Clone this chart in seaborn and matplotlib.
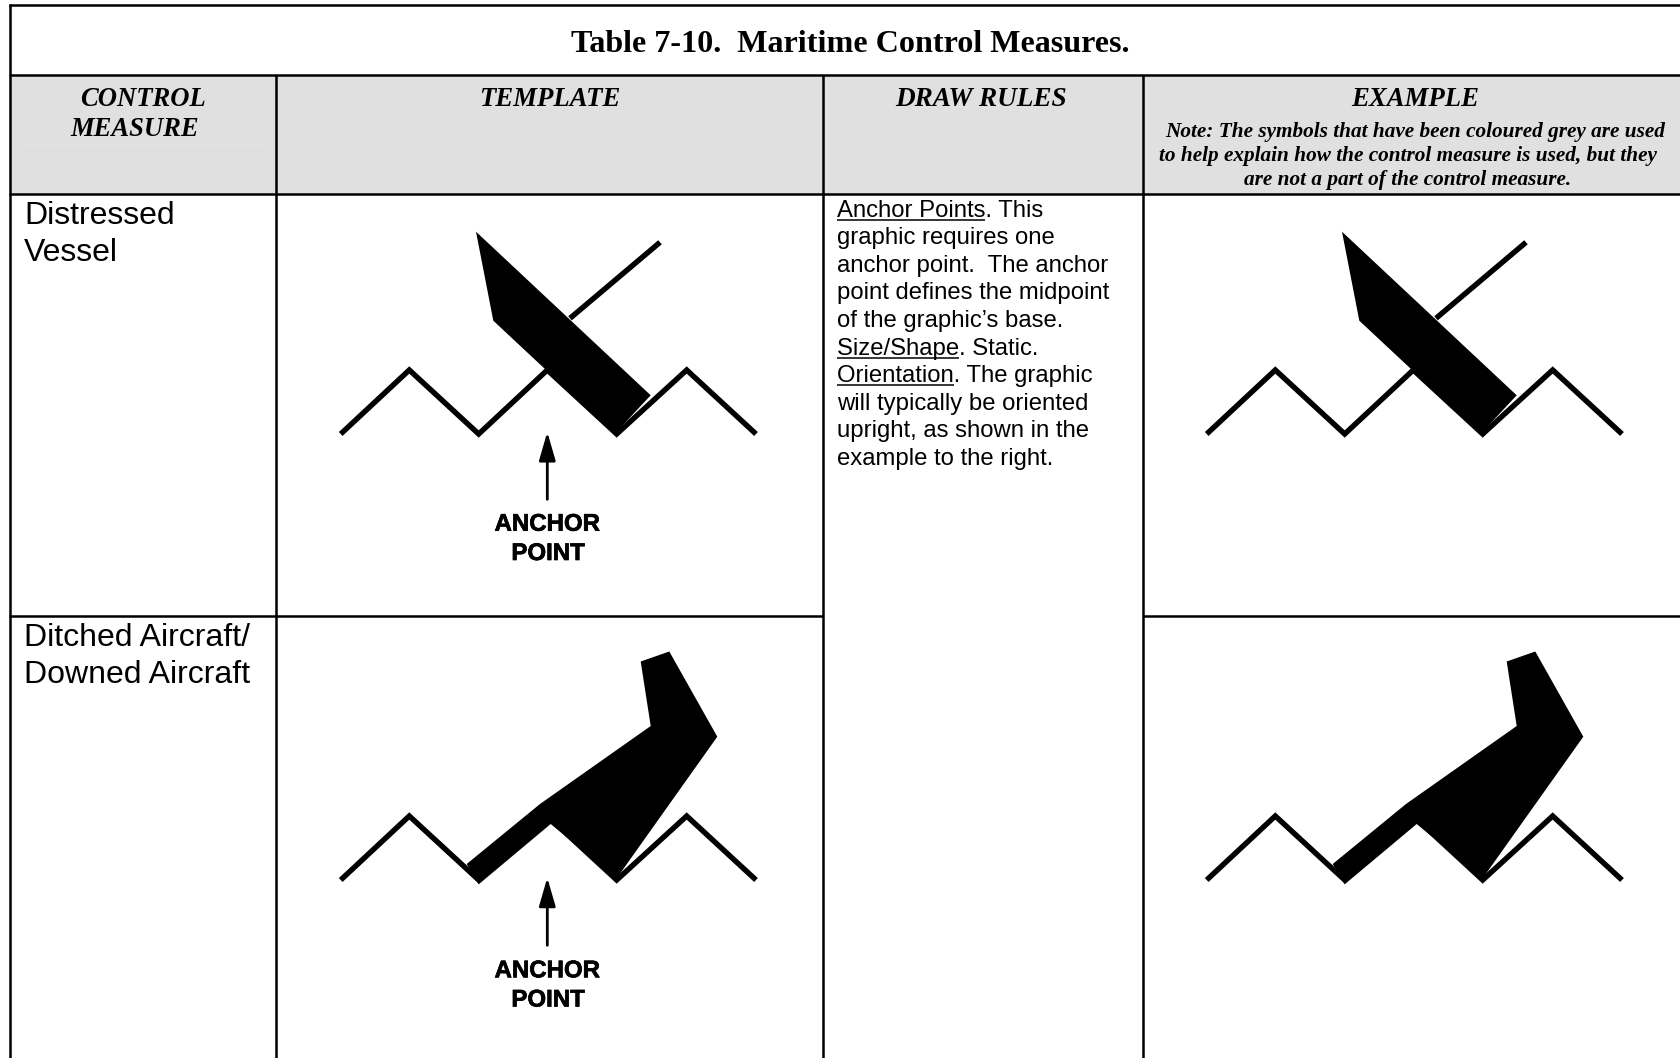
import matplotlib
matplotlib.use("Agg")
import matplotlib.pyplot as plt
import matplotlib.patheffects as pe
import seaborn as sns

# table layout in pixels
title = "Table 7-10.  Maritime Control Measures."
headers = ["TEMPLATE", "DRAW RULES", "EXAMPLE"]
header_x = [549.6, 981, 1415]
note_lines = ["Note: The symbols that have been coloured grey are used",
              "to help explain how the control measure is used, but they",
              "are not a part of the control measure."]
note_x = [1415, 1408, 1408]
note_y = [137, 161.5, 185.5]

col_lines = [276, 823, 1143]
row_top = 5
row_head = 75
row_body = 193.5
row_split = 616

rules_lines = ["Anchor Points. This", "graphic requires one",
               "anchor point.  The anchor", "point defines the midpoint",
               "of the graphic\u2019s base.", "Size/Shape. Static.",
               "Orientation. The graphic", "will typically be oriented",
               "upright, as shown in the", "example to the right."]
rules_y = [216.7, 244.3, 272, 299.5, 327, 354.5, 382.2, 410, 437.5, 465]
underlined = {0: "Anchor Points", 5: "Size/Shape", 6: "Orientation"}

# symbols
wave_x = [340.7, 409.3, 478.7, 547.3, 616.7, 686.7, 756]
wave_y1 = [434, 370, 434, 370, 434, 370, 434]
wave_y2 = [880, 816, 880, 816, 880, 816, 880]
mast_x = [570, 660]
mast_y = [318.3, 242.3]
vessel_x = [476, 650.7, 622, 616.7, 493.3]
vessel_y = [231.7, 395.3, 426, 436, 320.7]
plane_x = [466.7, 540, 650.7, 640.7, 669.3, 717.3, 616.7, 550.7, 478.7]
plane_y = [864, 804, 726, 661.5, 651.5, 736.7, 878.3, 824, 884.3]
example_shift = 866

sns.set_theme(style="white")
fig, ax = plt.subplots(figsize=(16.81, 10.58), dpi=100)
fig.subplots_adjust(0, 0, 1, 1)
ax.set_xlim(0, 1681)
ax.set_ylim(1058, 0)
ax.axis("off")

serif = "Liberation Serif"
sans = "Liberation Sans"

# header band
ax.fill([9.6, 1681, 1681, 9.6], [row_head, row_head, row_body, row_body], color="#e0e0e0", lw=0)
ax.plot([22, 262], [145, 145], color="#e6e6e6", lw=0.7)

# grid
k = dict(color="black", lw=1.8, solid_capstyle="butt")
ax.plot([9.6, 9.6], [row_top - 1, 1058], **k)
ax.plot([8.8, 1681], [row_top, row_top], **k)
ax.plot([8.8, 1681], [row_head, row_head], **k)
ax.plot([8.8, 1681], [row_body, row_body], **k)
ax.plot([8.8, col_lines[1]], [row_split, row_split], **k)
ax.plot([col_lines[2], 1681], [row_split, row_split], **k)
for x in col_lines:
    ax.plot([x, x], [row_head, 1058], **k)

# text
ax.text(850, 52, title, family=serif, weight="bold", fontsize=23.15, ha="center", va="baseline", color="black")
ax.text(142.5, 105.7, "CONTROL", family=serif, weight="bold", style="italic", fontsize=19.2, ha="center", color="black")
ax.text(135, 136.3, "MEASURE", family=serif, weight="bold", style="italic", fontsize=19.2, ha="center", color="black")
for x, h in zip(header_x, headers):
    ax.text(x, 105.7, h, family=serif, weight="bold", style="italic", fontsize=19.6 if h == "DRAW RULES" else 19.3,
            ha="center", color="black")
for x, y, s in zip(note_x, note_y, note_lines):
    ax.text(x, y, s, family=serif, weight="bold", style="italic", fontsize=15.3, ha="center", color="black")

for y, s in [(224.3, "Distressed"), (260.7, "Vessel"), (645.7, "Ditched Aircraft/"), (683, "Downed Aircraft")]:
    ax.text(24, y, s, family=sans, fontsize=23, color="black")

rules_fs = 17.2
fig.canvas.draw()
rend = fig.canvas.get_renderer()
for i, (y, s) in enumerate(zip(rules_y, rules_lines)):
    ax.text(837, y, s, family=sans, fontsize=rules_fs, color="black")
    if i in underlined:
        # underline only the lead-in words
        probe = ax.text(837, y, underlined[i], family=sans, fontsize=rules_fs)
        w = probe.get_window_extent(rend).width
        probe.remove()
        ax.plot([837, 837 + w], [y + 3, y + 3], color="black", lw=1.1, solid_capstyle="butt")

# symbols, template column then example column
line_k = dict(color="black", lw=3.9, sort=False, estimator=None, legend=False, ax=ax,
              solid_joinstyle="miter", solid_capstyle="butt")
for shift in [0, example_shift]:
    sns.lineplot(x=[v + shift for v in wave_x], y=wave_y1, **line_k)
    sns.lineplot(x=[v + shift for v in wave_x], y=wave_y2, **line_k)
    sns.lineplot(x=[v + shift for v in mast_x], y=mast_y, **line_k)
    ax.fill([v + shift for v in vessel_x], vessel_y, color="black", lw=0)
    ax.fill([v + shift for v in plane_x], plane_y, color="black", lw=0)

# anchor arrows and labels, template column only
heavy = [pe.withStroke(linewidth=0.5, foreground="black")]
for tip, tail, y1, y2 in [(432, 499.3, 530.7, 560), (877.7, 945.3, 977.3, 1006.5)]:
    ax.annotate("", xy=(547.3, tip), xytext=(547.3, tail),
                arrowprops=dict(arrowstyle="-|>,head_length=1.45,head_width=0.42", color="black", lw=2,
                                shrinkA=0, shrinkB=0))
    ax.text(547.3, y1, "ANCHOR", family=sans, weight="bold", fontsize=17.3, ha="center", color="black",
            path_effects=heavy)
    ax.text(548, y2, "POINT", family=sans, weight="bold", fontsize=17.3, ha="center", color="black",
            path_effects=heavy)

fig.savefig("out.png", dpi=100, facecolor="white")
